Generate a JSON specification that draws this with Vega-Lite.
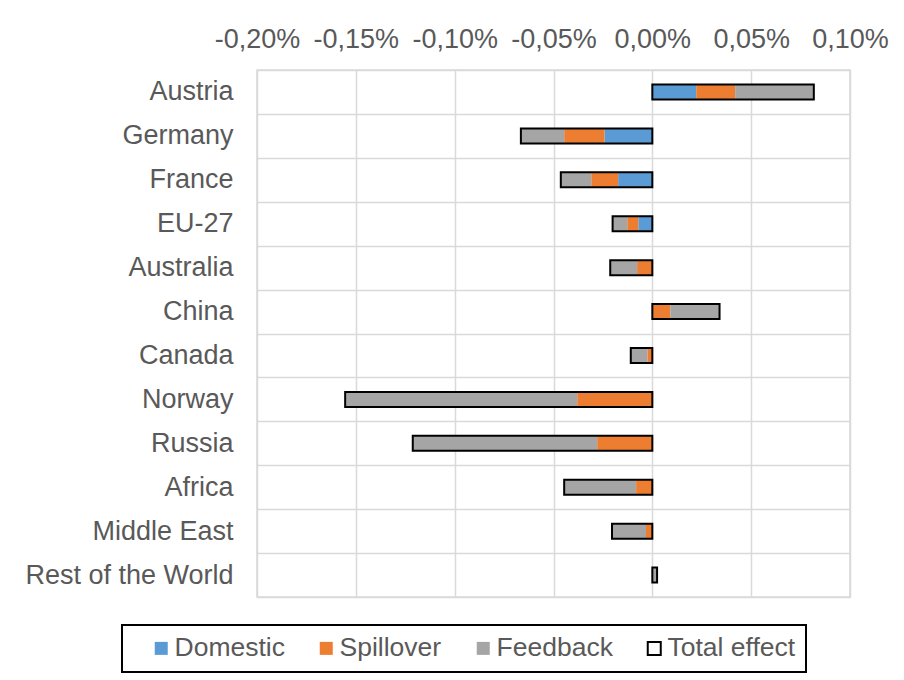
{
  "$schema": "https://vega.github.io/schema/vega-lite/v6.json",
  "width": 593,
  "height": 527,
  "autosize": {"type": "none"},
  "padding": {"left": 257, "top": 70, "right": 54, "bottom": 83},
  "background": "white",
  "data": {
    "values": [
      {"country": "Austria", "component": "Domestic", "value": 0.000222},
      {"country": "Austria", "component": "Spillover", "value": 0.000197},
      {"country": "Austria", "component": "Feedback", "value": 0.000397},
      {"country": "Austria", "component": "Total effect", "value": 0.000817},
      {"country": "Germany", "component": "Domestic", "value": -0.000242},
      {"country": "Germany", "component": "Spillover", "value": -0.000204},
      {"country": "Germany", "component": "Feedback", "value": -0.000219},
      {"country": "Germany", "component": "Total effect", "value": -0.000665},
      {"country": "France", "component": "Domestic", "value": -0.000173},
      {"country": "France", "component": "Spillover", "value": -0.000136},
      {"country": "France", "component": "Feedback", "value": -0.000154},
      {"country": "France", "component": "Total effect", "value": -0.000463},
      {"country": "EU-27", "component": "Domestic", "value": -0.000071},
      {"country": "EU-27", "component": "Spillover", "value": -0.000056},
      {"country": "EU-27", "component": "Feedback", "value": -0.000074},
      {"country": "EU-27", "component": "Total effect", "value": -0.000201},
      {"country": "Australia", "component": "Domestic", "value": 0},
      {"country": "Australia", "component": "Spillover", "value": -0.000077},
      {"country": "Australia", "component": "Feedback", "value": -0.000136},
      {"country": "Australia", "component": "Total effect", "value": -0.000213},
      {"country": "China", "component": "Domestic", "value": 0},
      {"country": "China", "component": "Spillover", "value": 0.000091},
      {"country": "China", "component": "Feedback", "value": 0.000249},
      {"country": "China", "component": "Total effect", "value": 0.00034},
      {"country": "Canada", "component": "Domestic", "value": 0},
      {"country": "Canada", "component": "Spillover", "value": -0.000025},
      {"country": "Canada", "component": "Feedback", "value": -0.000084},
      {"country": "Canada", "component": "Total effect", "value": -0.000109},
      {"country": "Norway", "component": "Domestic", "value": 0},
      {"country": "Norway", "component": "Spillover", "value": -0.00038},
      {"country": "Norway", "component": "Feedback", "value": -0.001174},
      {"country": "Norway", "component": "Total effect", "value": -0.001554},
      {"country": "Russia", "component": "Domestic", "value": 0},
      {"country": "Russia", "component": "Spillover", "value": -0.000279},
      {"country": "Russia", "component": "Feedback", "value": -0.000933},
      {"country": "Russia", "component": "Total effect", "value": -0.001212},
      {"country": "Africa", "component": "Domestic", "value": 0},
      {"country": "Africa", "component": "Spillover", "value": -0.000082},
      {"country": "Africa", "component": "Feedback", "value": -0.000364},
      {"country": "Africa", "component": "Total effect", "value": -0.000446},
      {"country": "Middle East", "component": "Domestic", "value": 0},
      {"country": "Middle East", "component": "Spillover", "value": -0.000032},
      {"country": "Middle East", "component": "Feedback", "value": -0.000172},
      {"country": "Middle East", "component": "Total effect", "value": -0.000204},
      {"country": "Rest of the World", "component": "Domestic", "value": 0},
      {"country": "Rest of the World", "component": "Spillover", "value": 0},
      {"country": "Rest of the World", "component": "Feedback", "value": 0.000024},
      {"country": "Rest of the World", "component": "Total effect", "value": 0.000024}
    ]
  },
  "encoding": {
    "y": {
      "field": "country",
      "type": "nominal",
      "sort": null,
      "scale": {"paddingInner": 0, "paddingOuter": 0},
      "axis": {
        "title": null,
        "grid": true,
        "tickBand": "extent",
        "ticks": false,
        "domain": false,
        "labelPadding": 24,
        "labelFontSize": 27,
        "labelLimit": 300
      }
    },
    "x": {
      "field": "value",
      "type": "quantitative",
      "scale": {"domain": [-0.002, 0.001], "nice": false, "zero": false},
      "axis": {
        "orient": "top",
        "title": null,
        "values": [-0.002, -0.0015, -0.001, -0.0005, 0, 0.0005, 0.001],
        "labelExpr": "replace(replace(format(datum.value, '.2%'), '.', ','), '\u2212', '-')",
        "grid": true,
        "ticks": false,
        "tickSize": 0,
        "domain": false,
        "labelPadding": 17,
        "labelFontSize": 27,
        "labelFlush": false,
        "labelOverlap": false
      }
    }
  },
  "layer": [
    {
      "transform": [
        {"filter": "datum.component !== 'Total effect'"},
        {"calculate": "indexof(['Domestic','Spillover','Feedback'], datum.component)", "as": "ord"}
      ],
      "mark": {"type": "bar", "size": 15},
      "encoding": {
        "x": {"field": "value", "type": "quantitative", "stack": "zero"},
        "order": {"field": "ord", "type": "quantitative"},
        "color": {
          "field": "component",
          "type": "nominal",
          "scale": {
            "domain": ["Domestic", "Spillover", "Feedback", "Total effect"],
            "range": ["#5B9BD5", "#ED7D31", "#A5A5A5", "#FFFFFF"]
          },
          "legend": {
            "orient": "none",
            "legendX": -135,
            "legendY": 555,
            "direction": "horizontal",
            "title": " ",
            "titleOrient": "left",
            "titleFontSize": 1,
            "titlePadding": 16,
            "symbolType": "square",
            "symbolSize": 169,
            "symbolOpacity": 1,
            "labelFontSize": 26.5,
            "labelOffset": 0,
            "columnPadding": 28,
            "padding": 10,
            "strokeColor": "black",
            "labelExpr": "datum.label === 'Total effect' ? 'Total effect  ' : datum.label",
            "encode": {
              "symbols": {
                "update": {
                  "stroke": {"signal": "datum.value === 'Total effect' ? 'black' : 'transparent'"},
                  "strokeWidth": {"value": 2}
                }
              }
            }
          }
        }
      }
    },
    {
      "transform": [{"filter": "datum.component === 'Total effect'"}],
      "mark": {"type": "bar", "size": 15, "fill": "transparent", "stroke": "black", "strokeWidth": 2},
      "encoding": {
        "x": {"field": "value", "type": "quantitative", "stack": null}
      }
    }
  ],
  "config": {
    "font": "Liberation Sans",
    "view": {"stroke": "#D9D9D9", "strokeWidth": 1.5},
    "axis": {
      "labelColor": "#595959",
      "labelFont": "Liberation Sans",
      "gridColor": "#D9D9D9",
      "gridWidth": 1.5
    },
    "legend": {
      "labelColor": "#595959",
      "labelFont": "Liberation Sans",
      "strokeWidth": 2
    }
  }
}
